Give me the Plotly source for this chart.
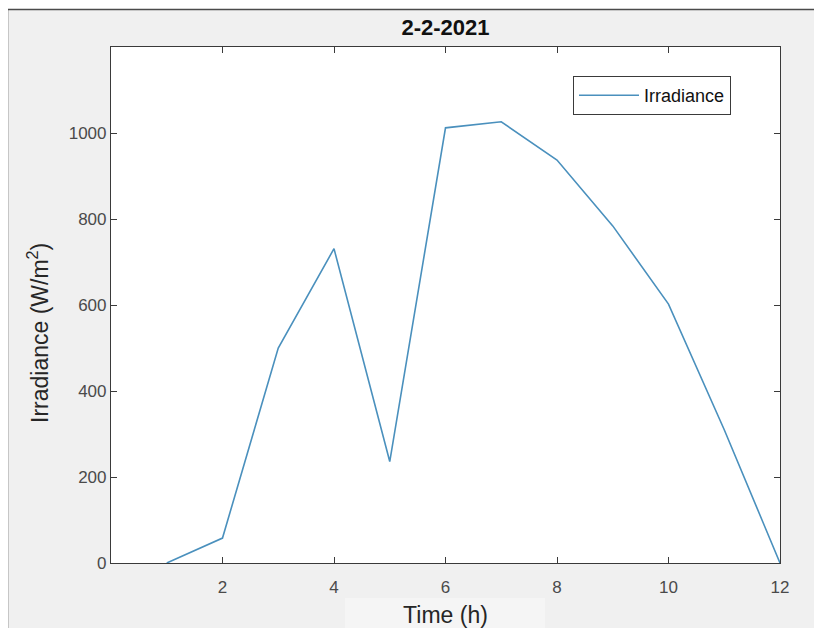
import plotly.graph_objects as go

time_h = [1, 2, 3, 4, 5, 6, 7, 8, 9, 10, 11, 12]
irradiance = [0, 58, 500, 731, 236, 1012, 1026, 937, 784, 602, 310, 0]
x_ticks = [2, 4, 6, 8, 10, 12]
y_ticks = [0, 200, 400, 600, 800, 1000]

# window geometry (the page body has an 8px margin)
WIN_W, WIN_H = 822, 628
OFF = 8
W, H = WIN_W - OFF, WIN_H - OFF
PL, PR, PT, PB = 111, 780, 47, 563  # plot area in window px
L, R, T, B = PL - OFF, WIN_W - PR, PT - OFF, WIN_H - PB
pw, ph = PR - PL, PB - PT

def px_x(p):
    return (p - PL) / pw

def px_y(p):
    return (PB - p) / ph

FONT = "Liberation Sans, Arial"

fig = go.Figure()
fig.add_trace(go.Scatter(
    x=time_h, y=irradiance, mode="lines", name="Irradiance",
    line=dict(color="#4a90bd", width=1.6),
))

axis_common = dict(
    showline=True, linecolor="#3a3a3a", linewidth=1.2, mirror="ticks",
    ticks="inside", ticklen=6, tickwidth=1.2, tickcolor="#3a3a3a",
    showgrid=False, zeroline=False, automargin=False,
    tickfont=dict(family=FONT, size=17, color="#4a4a4a"),
)

fig.update_layout(
    width=W, height=H,
    margin=dict(l=L, r=R, t=T, b=B),
    paper_bgcolor="white",
    plot_bgcolor="white",
    showlegend=True,
    title=dict(text="<b>2-2-2021</b>", x=0.5, xref="paper", xanchor="center",
               y=1 - (27 - OFF) / H, yref="container", yanchor="middle",
               font=dict(family=FONT, size=22, color="#111111")),
    xaxis=dict(range=[0, 12], tickvals=x_ticks, ticklabelstandoff=8,
               title=dict(text="Time (h)", standoff=13,
                          font=dict(family=FONT, size=23, color="#262626")),
               **axis_common),
    yaxis=dict(range=[0, 1200], tickvals=y_ticks, **axis_common),
    legend=dict(x=px_x(573), y=px_y(76), xanchor="left", yanchor="top",
                bgcolor="white", bordercolor="#3a3a3a", borderwidth=1,
                itemwidth=60,
                font=dict(family=FONT, size=18, color="#111111")),
    annotations=[
        dict(text="Irradiance (W/m<sup>2</sup>)", textangle=-90,
             xref="paper", yref="paper", x=px_x(38), y=px_y(333),
             xanchor="center", yanchor="middle", showarrow=False,
             font=dict(family=FONT, size=23, color="#262626")),
    ],
    shapes=[
        dict(type="rect", xref="paper", yref="paper", layer="below",
             x0=px_x(7.5), x1=px_x(840), y0=px_y(660), y1=px_y(9.5),
             fillcolor="#f0f0f0", line=dict(color="#4a4a4a", width=1.5)),
        dict(type="rect", xref="paper", yref="paper", layer="below",
             x0=px_x(345), x1=px_x(545), y0=px_y(660), y1=px_y(598),
             fillcolor="#f5f5f5", line=dict(width=0)),
        dict(type="rect", xref="paper", yref="paper", layer="below",
             x0=0, x1=1, y0=0, y1=1,
             fillcolor="white", line=dict(width=0)),
    ],
)

fig.write_html("out.html")
